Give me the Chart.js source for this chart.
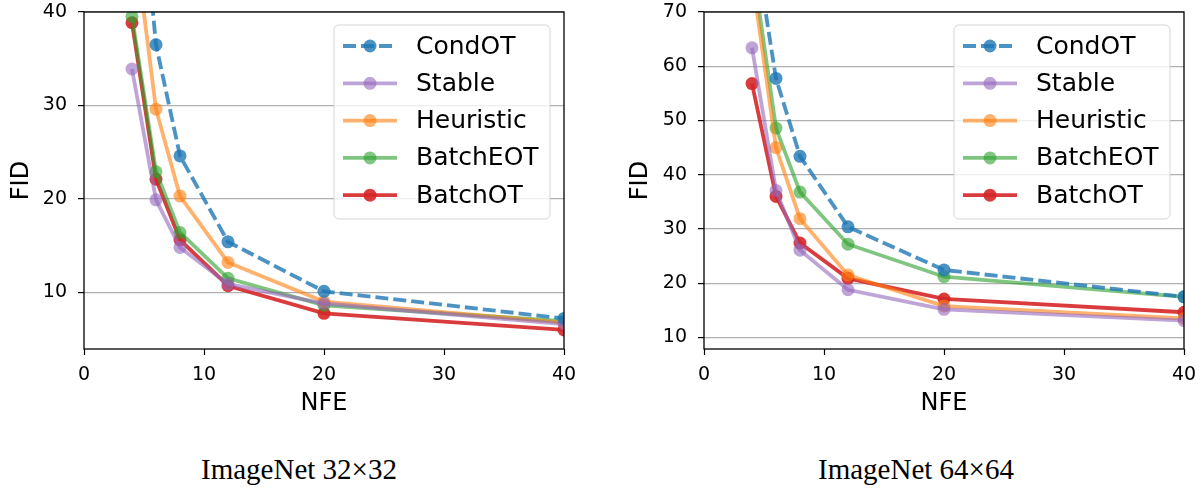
<!DOCTYPE html>
<html>
<head>
<meta charset="utf-8">
<script src="https://cdn.jsdelivr.net/npm/chart.js@4/dist/chart.umd.min.js"></script>
<style>
  body { margin: 0; background: #fff; width: 1203px; height: 490px; position: relative; overflow: hidden; }
  .box { position: absolute; top: 0; }
  .caption { position: absolute; top: 452px; font-family: "Liberation Serif", serif; font-size: 29px; line-height: 34px; color: #000; transform: translateX(-50%); white-space: nowrap; }
</style>
</head>
<body>
<div class="box" style="left:0px"><canvas id="chart32" width="600" height="422"></canvas></div>
<div class="box" style="left:600px"><canvas id="chart64" width="600" height="422"></canvas></div>
<div class="caption" style="left:299px">ImageNet 32×32</div>
<div class="caption" style="left:916px">ImageNet 64×64</div>
<script>
// NFE steps on the x axis
const nfe = [4, 6, 8, 12, 20, 40];
const seriesNames = ['CondOT', 'Stable', 'Heuristic', 'BatchEOT', 'BatchOT'];

// ImageNet 32x32
const fid32CondOT    = [64, 36.5, 24.6, 15.4, 10.1, 7.2];
const fid32Stable    = [33.9, 19.9, 14.8, 10.9, 8.8, 6.6];
const fid32Heuristic = [50, 29.6, 20.3, 13.2, 9.0, 6.75];
const fid32BatchEOT  = [39.5, 22.9, 16.4, 11.5, 8.6, 6.9];
const fid32BatchOT   = [38.85, 22.1, 15.6, 10.7, 7.75, 5.97];

// ImageNet 64x64
const fid64CondOT    = [86, 57.75, 43.4, 30.4, 22.45, 17.5];
const fid64Stable    = [63.4, 37.1, 26.1, 18.8, 15.2, 13.1];
const fid64Heuristic = [76.6, 45.0, 31.9, 21.5, 15.8, 13.5];
const fid64BatchEOT  = [79.4, 48.6, 36.8, 27.2, 21.2, 17.5];
const fid64BatchOT   = [56.8, 36.0, 27.4, 20.9, 17.1, 14.65];

const xTicks = [0, 10, 20, 30, 40];
const yTicks32 = [10, 20, 30, 40];
const yTicks64 = [10, 20, 30, 40, 50, 60, 70];

const colors = [
    'rgba(31,119,180,0.8)',
    'rgba(148,103,189,0.6)',
    'rgba(255,127,14,0.6)',
    'rgba(44,160,44,0.6)',
    'rgba(214,39,40,0.9)'
];
const FONT = '"DejaVu Sans", sans-serif';

function makeDatasets(values) {
    return values.map(function(arr, k) {
        return {
            label: seriesNames[k],
            data: nfe.map((x, i) => ({x: x, y: arr[i]})),
            borderColor: colors[k],
            backgroundColor: colors[k],
            pointBackgroundColor: colors[k],
            pointBorderWidth: 0,
            pointRadius: 6.5,
            borderWidth: 3.8,
            borderDash: k == 0 ? [13, 5] : [],
            tension: 0,
            clip: 0
        };
    });
}

// legend drawn inside the plot area, top right, plus full frame
const insideLegend = {
    id: 'insideLegend',
    afterDraw(chart) {
        const ctx = chart.ctx;
        const a = chart.chartArea;
        ctx.save();
        // frame
        ctx.strokeStyle = '#000';
        ctx.lineWidth = 1.3;
        ctx.setLineDash([]);
        ctx.strokeRect(a.left, a.top, a.right - a.left, a.bottom - a.top);

        const w = 216, h = 194;
        const x0 = a.right - 14 - w, y0 = a.top + 13;
        ctx.beginPath();
        ctx.roundRect(x0, y0, w, h, 5);
        ctx.fillStyle = 'rgba(255,255,255,0.8)';
        ctx.fill();
        ctx.strokeStyle = 'rgba(204,204,204,0.8)';
        ctx.lineWidth = 1;
        ctx.stroke();

        ctx.font = '25px ' + FONT;
        ctx.textBaseline = 'middle';
        ctx.textAlign = 'left';
        chart.data.datasets.forEach(function(ds, i) {
            const y = y0 + 21 + i * 37.3;
            ctx.strokeStyle = ds.borderColor;
            ctx.lineWidth = ds.borderWidth;
            ctx.setLineDash(ds.borderDash);
            ctx.beginPath();
            ctx.moveTo(x0 + 9, y);
            ctx.lineTo(x0 + 63, y);
            ctx.stroke();
            ctx.setLineDash([]);
            ctx.fillStyle = ds.pointBackgroundColor;
            ctx.beginPath();
            ctx.arc(x0 + 36, y, ds.pointRadius, 0, Math.PI * 2);
            ctx.fill();
            ctx.fillStyle = '#000';
            ctx.fillText(ds.label, x0 + 82, y + 1);
        });
        ctx.restore();
    }
};

function makeChart(id, values, yMin, yMax, yTicks, padLeft, yWidth, padRight) {
    new Chart(document.getElementById(id), {
        type: 'line',
        data: {datasets: makeDatasets(values)},
        options: {
            responsive: false,
            animation: false,
            devicePixelRatio: 1,
            layout: {padding: {left: padLeft, right: padRight, top: 12, bottom: 0}},
            plugins: {legend: {display: false}, tooltip: {enabled: false}},
            scales: {
                x: {
                    type: 'linear',
                    min: 0, max: 40,
                    afterBuildTicks: (s) => { s.ticks = xTicks.map(v => ({value: v})); },
                    afterFit: (s) => { s.height = 73; s.paddingLeft = 0; s.paddingRight = 0; },
                    border: {display: false},
                    grid: {drawOnChartArea: false, drawTicks: true, tickLength: 6, tickColor: '#000', tickWidth: 1.2},
                    ticks: {color: '#000', font: {family: FONT, size: 19}, padding: 9, maxRotation: 0},
                    title: {display: true, text: 'NFE', color: '#000', font: {family: FONT, size: 24}, padding: {top: 0, bottom: 4}}
                },
                y: {
                    min: yMin, max: yMax,
                    afterBuildTicks: (s) => { s.ticks = yTicks.map(v => ({value: v})); },
                    afterFit: (s) => { s.width = yWidth; s.paddingTop = 0; s.paddingBottom = 0; },
                    border: {display: false},
                    grid: {color: '#b0b0b0', lineWidth: 1.2, tickLength: 6, tickColor: '#000', tickWidth: 1.2},
                    ticks: {color: '#000', font: {family: FONT, size: 19}, padding: 11},
                    title: {display: true, text: 'FID', color: '#000', font: {family: FONT, size: 24}, padding: {top: 4, bottom: 0}}
                }
            }
        },
        plugins: [insideLegend]
    });
}

makeChart('chart32',
    [fid32CondOT, fid32Stable, fid32Heuristic, fid32BatchEOT, fid32BatchOT],
    3.93, 40, yTicks32, 3, 81, 36);
makeChart('chart64',
    [fid64CondOT, fid64Stable, fid64Heuristic, fid64BatchEOT, fid64BatchOT],
    7.88, 70, yTicks64, 22, 82, 16);
</script>
</body>
</html>
